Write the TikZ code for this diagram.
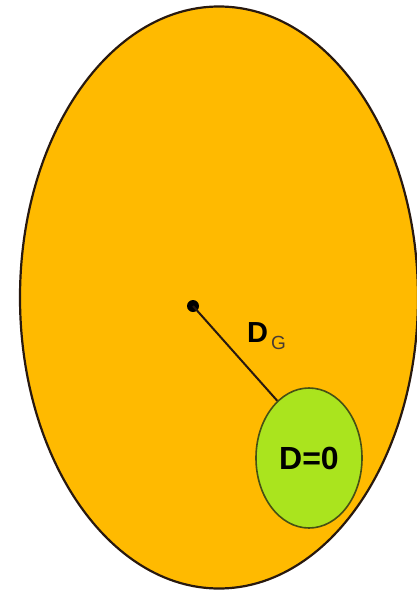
\documentclass[tikz,border=0pt]{standalone}
\usepackage{fontspec}
\setmainfont{Liberation Sans}
\usetikzlibrary{shapes.geometric}
\definecolor{eggorange}{RGB}{255,186,0}
\definecolor{limegreen}{RGB}{170,228,30}
\definecolor{rimdark}{RGB}{40,25,15}
\definecolor{rimolive}{RGB}{70,80,20}
\tikzset{
  outer/.style={ellipse, draw=rimdark, line width=2.2pt, fill=eggorange, inner sep=0pt},
  inner/.style={ellipse, draw=rimolive, line width=1.6pt, fill=limegreen, inner sep=0pt,
    font=\fontsize{32}{32}\selectfont\bfseries},
  centerdot/.style={circle, fill=black, inner sep=0pt, minimum size=12pt},
  radius line/.style={draw=rimdark, line width=2pt},
  lbl/.style={inner sep=0pt, anchor=base west}
}
\begin{document}
\begin{tikzpicture}[x=1pt,y=-1pt]
  \useasboundingbox (0,0) rectangle (417,592);
  \node[outer, minimum width=398pt, minimum height=582pt] (egg) at (219,297.5) {};
  \node[inner, minimum width=106pt, minimum height=140pt] (zero) at (309,458) {D=0};
  \node[centerdot] (c) at (193,306) {};
  \draw[radius line] (c.center) -- (zero.119);
  \node[lbl] (dg) at (247,342) {\fontsize{29}{29}\selectfont\bfseries D\hspace{3pt}\raisebox{-7pt}{\fontsize{19}{19}\selectfont\mdseries\color{rimdark!85}G}};
\end{tikzpicture}
\end{document}
